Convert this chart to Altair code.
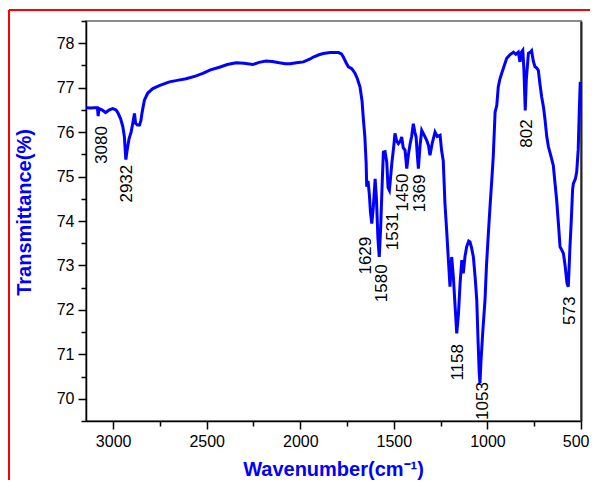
import altair as alt
import pandas as pd

# ---- spectrum data ----
wavenumber = [3144, 3120, 3100, 3084, 3080, 3076, 3060, 3040, 3020, 3002, 2985, 2975, 2960, 2948, 2940,
              2932, 2925, 2915, 2904, 2895, 2886, 2880, 2870, 2859, 2852, 2845, 2833, 2815, 2788, 2750,
              2699, 2650, 2610, 2560, 2521, 2480, 2432, 2390, 2343, 2300, 2254, 2220, 2183, 2150, 2112,
              2080, 2054, 2020, 1983, 1950, 1930, 1900, 1877, 1840, 1796, 1780, 1770, 1755, 1743, 1725,
              1707, 1695, 1681, 1670, 1663, 1655, 1648, 1645, 1638, 1631, 1625, 1618, 1610, 1600, 1593,
              1585, 1578, 1570, 1562, 1556, 1547, 1538, 1531, 1524, 1517, 1511, 1500, 1494, 1485, 1476,
              1465, 1458, 1450, 1440, 1431, 1422, 1413, 1405, 1396, 1388, 1381, 1375, 1369, 1360, 1351,
              1340, 1325, 1315, 1307, 1295, 1280, 1268, 1253, 1245, 1236, 1227, 1218, 1209, 1200, 1191,
              1182, 1173, 1164, 1155, 1146, 1137, 1129, 1120, 1111, 1100, 1093, 1085, 1075, 1065, 1057,
              1050, 1044, 1040, 1035, 1025, 1013, 1005, 995, 985, 977, 969, 959, 950, 942, 933,
              924, 910, 897, 880, 861, 848, 835, 826, 818, 811, 805, 798, 792, 781, 770,
              764, 755, 746, 738, 728, 720, 710, 700, 692, 683, 674, 660, 648, 640, 630,
              620, 612, 603, 594, 585, 575, 568, 563, 559, 552, 545, 541, 530, 523, 515,
              509, 504]
transmittance = [76.55, 76.54, 76.55, 76.55, 76.36, 76.53, 76.50, 76.44, 76.50, 76.53, 76.50, 76.44, 76.30, 76.12, 75.90,
                 75.38, 75.60, 75.85, 76.00, 76.20, 76.42, 76.20, 76.16, 76.16, 76.25, 76.45, 76.72, 76.88, 76.98, 77.05,
                 77.13, 77.17, 77.20, 77.26, 77.32, 77.40, 77.46, 77.52, 77.56, 77.55, 77.52, 77.57, 77.60, 77.59, 77.56,
                 77.54, 77.54, 77.56, 77.58, 77.64, 77.69, 77.74, 77.77, 77.79, 77.79, 77.76, 77.69, 77.56, 77.47, 77.43,
                 77.32, 77.20, 77.02, 76.70, 76.30, 75.90, 75.30, 74.77, 74.90, 74.60, 74.20, 73.94, 74.30, 74.95, 74.50,
                 73.60, 73.19, 73.90, 74.90, 75.55, 75.56, 75.33, 74.75, 74.69, 75.00, 75.29, 75.70, 75.97, 75.80, 75.74,
                 75.80, 75.89, 75.65, 75.59, 75.18, 75.50, 75.74, 75.90, 76.19, 76.00, 75.89, 75.50, 75.18, 75.70, 76.04,
                 75.95, 75.82, 75.70, 75.48, 75.75, 76.00, 75.90, 75.93, 75.59, 75.35, 74.40, 73.80, 73.15, 72.52, 73.19,
                 72.74, 72.10, 71.47, 71.90, 72.60, 73.12, 72.82, 73.20, 73.42, 73.55, 73.53, 73.40, 73.19, 72.70, 72.22,
                 71.30, 70.60, 70.35, 70.80, 71.50, 72.22, 73.00, 73.72, 74.40, 74.90, 75.44, 76.45, 76.60, 77.02, 77.20,
                 77.32, 77.50, 77.66, 77.74, 77.80, 77.75, 77.80, 77.58, 77.80, 77.84, 77.40, 76.49, 77.20, 77.77, 77.80,
                 77.83, 77.60, 77.47, 77.45, 77.39, 77.10, 76.79, 76.55, 76.27, 75.90, 75.67, 75.45, 75.25, 74.90, 74.47,
                 73.90, 73.42, 73.35, 73.27, 73.00, 72.60, 72.52, 73.00, 73.42, 74.00, 74.70, 74.84, 74.95, 75.10, 75.60,
                 76.50, 77.13]

# ---- peak annotations ----
peak_labels = ["3080", "2932", "1629", "1580", "1531", "1450", "1369", "1158", "1053", "802", "573"]
label_x = [3059, 2924, 1648, 1565, 1503, 1449, 1360, 1155, 1022, 790, 559]
label_y = [75.71, 74.84, 73.22, 72.60, 73.77, 74.64, 74.62, 70.82, 69.95, 75.97, 71.98]

x_major = [3000, 2500, 2000, 1500, 1000, 500]
x_minor = [2750, 2250, 1750, 1250, 750]
y_major = [70, 71, 72, 73, 74, 75, 76, 77, 78]
y_minor = [69.5, 70.5, 71.5, 72.5, 73.5, 74.5, 75.5, 76.5, 77.5, 78.5]

df = pd.DataFrame({"wn": wavenumber, "t": transmittance})
lab = pd.DataFrame({"label": peak_labels, "x": label_x, "y": label_y})

FONT = "Liberation Sans"
BLUE = "#0000FF"
xscale = alt.Scale(domain=[500, 3145], reverse=True, nice=False, zero=False)
yscale = alt.Scale(domain=[69.5, 78.5], nice=False, zero=False)

major_x_axis = alt.Axis(
    orient="bottom", values=x_major, format="d", tickSize=8, tickWidth=1.5, tickColor="black",
    domainColor="black", domainWidth=1.5, labelFont=FONT, labelFontSize=16, labelColor="black",
    labelPadding=4, grid=False, title="Wavenumber(cm⁻¹)", titleFont=FONT, titleFontSize=20,
    titleFontWeight="bold", titleColor=BLUE, titleX=247, titleY=48, titleBaseline="middle",
    labelFlush=True, labelFlushOffset=8,
)
major_y_axis = alt.Axis(
    orient="left", values=y_major, format="d", tickSize=8, tickWidth=1.5, tickColor="black",
    domainColor="black", domainWidth=1.5, labelFont=FONT, labelFontSize=16, labelColor="black",
    labelPadding=4, grid=False, title="Transmittance(%)", titleFont=FONT, titleFontSize=20,
    titleFontWeight="bold", titleColor=BLUE, titleX=-62, titleY=191, titleBaseline="middle",
)
minor_x_axis = alt.Axis(orient="bottom", values=x_minor, tickSize=5, tickWidth=1.5, tickColor="black",
                        labels=False, domain=False, grid=False, title=None)
minor_y_axis = alt.Axis(orient="left", values=y_minor, tickSize=5, tickWidth=1.5, tickColor="black",
                        labels=False, domain=False, grid=False, title=None)
right_axis = alt.Axis(orient="right", ticks=False, labels=False, domain=True, domainColor="#222222",
                      domainWidth=2, grid=False, title=None)

base = alt.Chart(df)

line = base.mark_line(color=BLUE, strokeWidth=3).encode(
    x=alt.X("wn:Q", scale=xscale, axis=major_x_axis),
    y=alt.Y("t:Q", scale=yscale, axis=major_y_axis),
    order="wn:Q",
)

minor = base.mark_point(opacity=0).encode(
    x=alt.X("wn:Q", scale=xscale, axis=minor_x_axis),
    y=alt.Y("t:Q", scale=yscale, axis=minor_y_axis),
)

right = base.mark_point(opacity=0).encode(
    x=alt.X("wn:Q", scale=xscale, axis=None),
    y=alt.Y("t:Q", scale=yscale, axis=right_axis),
)

labels = alt.Chart(lab).mark_text(
    angle=270, font=FONT, fontSize=17, color="black", align="center", baseline="middle"
).encode(
    x=alt.X("x:Q", scale=xscale, axis=None),
    y=alt.Y("y:Q", scale=yscale, axis=None),
    text="label:N",
)

frame_left = alt.Chart(df).mark_rule(color="red", strokeWidth=1.5).encode(
    x=alt.value(-77), y=alt.value(-11), y2=alt.value(460)
)
frame_top = alt.Chart(df).mark_rule(color="red", strokeWidth=1.5).encode(
    x=alt.value(-77), x2=alt.value(505), y=alt.value(-11)
)

chart = alt.layer(minor, right, line, labels, frame_left, frame_top).resolve_axis(
    x="independent", y="independent"
).properties(
    width=495, height=400,
    autosize=alt.AutoSizeParams(type="none"),
    padding={"left": 78, "top": 13, "right": 9, "bottom": 59},
).configure_view(stroke="#8c8c8c", strokeWidth=2)

chart.save("out.html", embed_options={"renderer": "svg", "actions": False})
